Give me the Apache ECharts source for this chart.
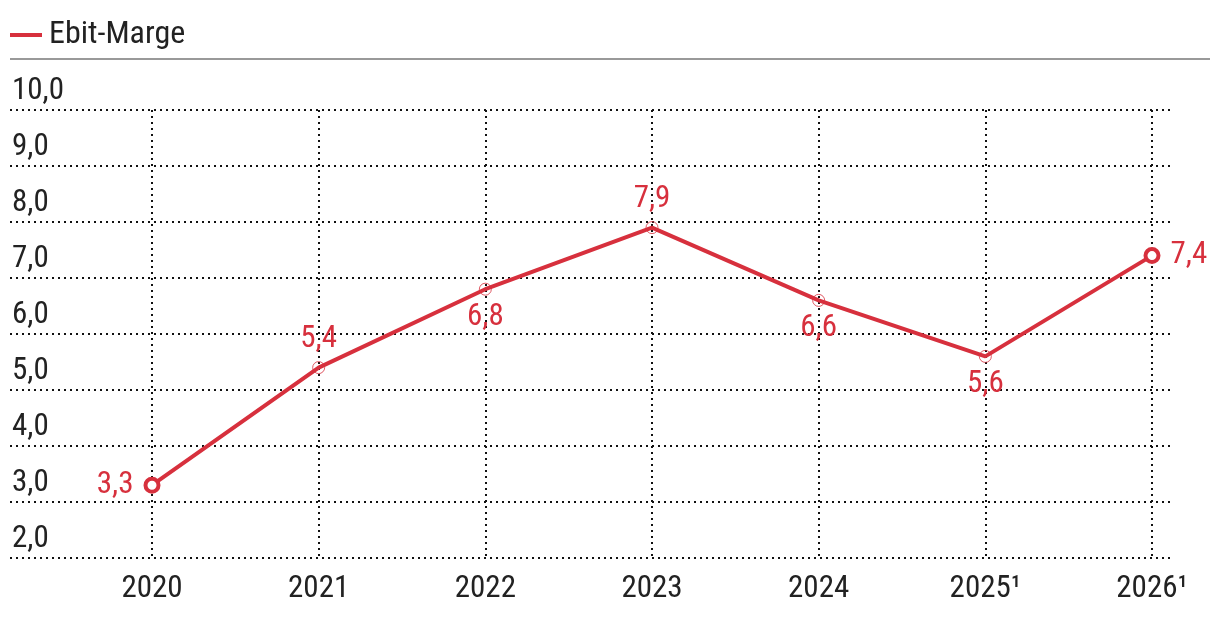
<!DOCTYPE html>
<html><head><meta charset="utf-8">
<script src="https://cdn.jsdelivr.net/npm/echarts@6/dist/echarts.min.js"></script>
<style>html,body{margin:0;padding:0;background:#fff}#c{width:1220px;height:620px}</style>
</head><body><div id="c"></div>
<script>
const categories = ["2020","2021","2022","2023","2024","2025¹","2026¹"];
const ebitMarge = [3.3, 5.4, 6.8, 7.9, 6.6, 5.6, 7.4];
const seriesName = "Ebit-Marge";
const yMin = 2, yMax = 10, yStep = 1;

const RED = "#d7303d";
const FONT = "'Roboto Condensed','Liberation Sans Narrow',Roboto,sans-serif";
const labelPos = ["left","top","bottom","top","bottom","bottom","right"];
const fmt = v => v.toFixed(1).replace(".", ",");

const data = ebitMarge.map((v, i) => {
  const big = (i === 0 || i === ebitMarge.length - 1);
  return {
    value: v,
    symbol: 'circle',
    symbolSize: big ? 13 : 12,
    itemStyle: big ? { borderWidth: 4, borderColor: RED, color: '#fff' }
                   : { borderWidth: 0.8, borderColor: RED, color: 'rgba(255,255,255,0)' },
    label: { position: labelPos[i], distance: big ? 10 : 6 }
  };
});

const chart = echarts.init(document.getElementById('c'));
chart.setOption({
  animation: false,
  textStyle: { fontFamily: FONT },
  legend: {
    left: 5, top: 14, itemWidth: 32, itemHeight: 4, icon: 'rect', itemGap: 10,
    textStyle: { fontSize: 32, color: '#222', fontFamily: FONT, padding: [0,0,0,2] },
    data: [seriesName]
  },
  graphic: [{ type: 'line', shape: { x1: 10, y1: 59, x2: 1210, y2: 59 }, style: { stroke: '#999', lineWidth: 2 } }],
  grid: [
    { left: 10, right: 48, top: 110, bottom: 62 },
    { left: 152, right: 68, top: 110, bottom: 62 }
  ],
  xAxis: [
    { gridIndex: 0, type: 'value', min: 0, max: 1, show: false },
    { gridIndex: 1, type: 'category', data: categories, boundaryGap: false,
      axisLine: { show: false }, axisTick: { show: false },
      axisLabel: { fontSize: 31, color: '#222', margin: 16, fontFamily: FONT },
      splitLine: { show: true, lineStyle: { color: '#111', width: 2, type: [2, 4] } } }
  ],
  yAxis: [
    { gridIndex: 0, type: 'value', min: yMin, max: yMax, interval: yStep,
      axisLine: { show: false }, axisTick: { show: false },
      axisLabel: { inside: true, margin: 2, verticalAlign: 'bottom', padding: [0,0,3,0],
        fontSize: 31, color: '#222', fontFamily: FONT, formatter: v => fmt(v) },
      splitLine: { show: true, lineStyle: { color: '#111', width: 2, type: [2, 4] } } },
    { gridIndex: 1, type: 'value', min: yMin, max: yMax, interval: yStep, show: false, splitLine: { show: false } }
  ],
  series: [{
    name: seriesName, type: 'line', xAxisIndex: 1, yAxisIndex: 1,
    data: data,
    lineStyle: { color: RED, width: 4 },
    itemStyle: { color: RED, borderColor: RED },
    label: { show: true, color: RED, fontSize: 31, fontFamily: FONT, formatter: p => fmt(p.value) }
  }]
});
</script></body></html>
